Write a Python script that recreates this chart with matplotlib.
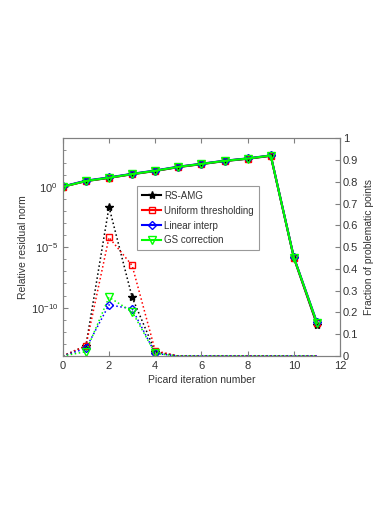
import numpy as np
import matplotlib
matplotlib.use('Agg')
import matplotlib.pyplot as plt
from matplotlib.ticker import NullFormatter

plt.rcParams['font.family'] = ['Liberation Sans', 'DejaVu Sans']
plt.rcParams['mathtext.fontset'] = 'custom'
plt.rcParams['mathtext.rm'] = 'Liberation Sans'
plt.rcParams['mathtext.it'] = 'Liberation Sans:italic'

# picard iterations
iters = np.arange(0, 12)

# relative residual norm (left axis, log)
res_rsamg = [1.0, 2.9, 5.4, 10.8, 20.0, 42.0, 74.0, 132.0, 205.0, 360.0, 1.3e-6, 4.0e-12]
res_unif = [1.0, 3.0, 5.6, 11.2, 21.0, 44.0, 77.0, 138.0, 215.0, 375.0, 1.4e-6, 5.0e-12]
res_lin = [1.05, 3.2, 5.9, 11.8, 22.0, 46.0, 80.0, 142.0, 222.0, 390.0, 1.5e-6, 6.0e-12]
res_gs = [1.0, 3.0, 5.6, 11.2, 21.0, 44.0, 77.0, 138.0, 215.0, 380.0, 1.4e-6, 5.5e-12]

# fraction of problematic points (right axis, linear)
frac_rsamg = [0, 0.047, 0.685, 0.27, 0.02, 0, 0, 0, 0, 0, 0, 0]
frac_unif = [0, 0.047, 0.545, 0.416, 0.024, 0, 0, 0, 0, 0, 0, 0]
frac_lin = [0, 0.035, 0.235, 0.217, 0.012, 0, 0, 0, 0, 0, 0, 0]
frac_gs = [0, 0.02, 0.27, 0.204, 0.012, 0, 0, 0, 0, 0, 0, 0]

labels = ['RS-AMG', 'Uniform thresholding', 'Linear interp', 'GS correction']
colors = ['black', 'red', 'blue', (0, 1, 0)]
markers = ['*', 's', 'D', 'v']
msizes = [6, 5, 4.5, 6]

fig = plt.figure(figsize=(3.9, 5.05), dpi=100)
ax = fig.add_axes([0.161, 0.295, 0.711, 0.431])
ax2 = ax.twinx()

gray = '0.5'
txt = '0.2'

res_all = [res_rsamg, res_unif, res_lin, res_gs]
frac_all = [frac_rsamg, frac_unif, frac_lin, frac_gs]

for i in range(4):
    fc = colors[i] if markers[i] == '*' else 'none'
    ax2.plot(iters, frac_all[i], ':', color=colors[i], lw=1.1, marker=markers[i],
             ms=msizes[i], mfc=fc, mec=colors[i], mew=1.0, markevery=[1, 2, 3, 4])

handles = []
for i in range(4):
    fc = colors[i] if markers[i] == '*' else 'none'
    h, = ax.plot(iters, res_all[i], '-', color=colors[i], lw=1.5, marker=markers[i],
                 ms=msizes[i], mfc=fc, mec=colors[i], mew=1.0, label=labels[i])
    handles.append(h)

ax.set_zorder(ax2.get_zorder() + 1)
ax.patch.set_visible(False)

ax.set_yscale('log')
ax.set_ylim(1e-14, 1e4)
ax.set_xlim(0, 12)
ax.set_xticks(range(0, 13, 2))
ax.set_yticks([1e-10, 1e-5, 1e0])
ax.set_yticklabels(['$10^{-10}$', '$10^{-5}$', '$10^{0}$'])
ax.set_yticks(10.0 ** np.arange(-14, 5), minor=True)
ax.yaxis.set_minor_formatter(NullFormatter())
ax.tick_params(axis='y', which='minor', length=2.5, direction='in', colors=gray)
ax.tick_params(axis='both', which='major', direction='in', length=3.5, colors=gray,
               labelcolor=txt, labelsize=8, top=True)
ax.tick_params(axis='x', which='both', top=True)

ax2.set_ylim(0, 1)
ax2.set_yticks(np.arange(0, 1.01, 0.1))
ax2.set_yticklabels(['0', '0.1', '0.2', '0.3', '0.4', '0.5', '0.6', '0.7', '0.8', '0.9', '1'])
ax2.tick_params(axis='y', direction='in', length=3.5, colors=gray, labelcolor=txt,
                labelsize=8, pad=2)

for a in (ax, ax2):
    for s in a.spines.values():
        s.set_color(gray)
        s.set_linewidth(0.8)

ax.set_xlabel('Picard iteration number', fontsize=7.5, color=txt, labelpad=3)
ax.set_ylabel('Relative residual norm', fontsize=7.5, color=txt, labelpad=2)
ax2.set_ylabel('Fraction of problematic points', fontsize=7.5, color=txt, labelpad=4)

leg = ax.legend(handles=handles, loc='upper left', bbox_to_anchor=(0.268, 0.781),
                borderaxespad=0, fontsize=7, frameon=True, fancybox=False,
                handlelength=2.0, borderpad=0.5, labelspacing=0.5, handletextpad=0.3)
leg.get_frame().set_edgecolor(gray)
leg.get_frame().set_linewidth(0.8)
for t in leg.get_texts():
    t.set_color(txt)

fig.savefig('out.png', dpi=100)
